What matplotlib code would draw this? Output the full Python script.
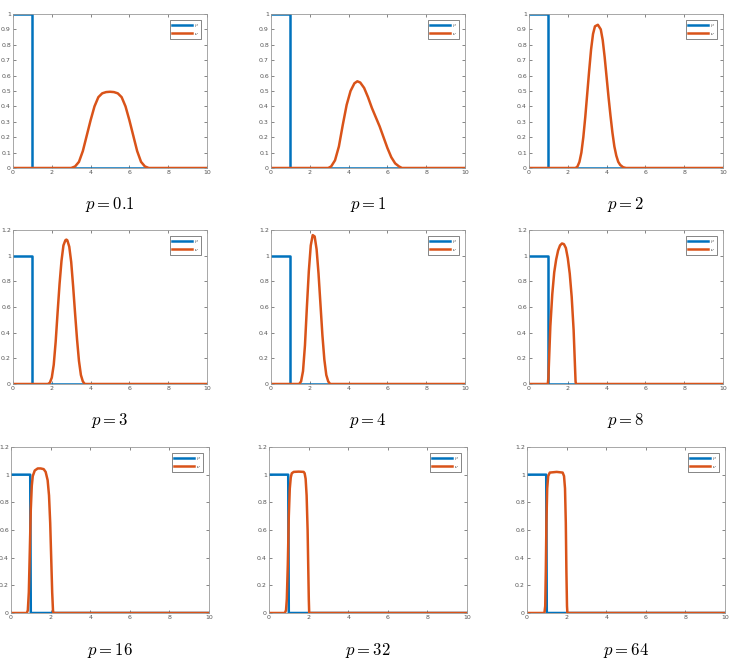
import matplotlib
matplotlib.use("Agg")
import matplotlib.pyplot as plt

plt.rcParams['mathtext.fontset'] = 'cm'

W, H = 733, 662

# p values shown under each panel
p_labels = ["0.1", "1", "2", "3", "4", "8", "16", "32", "64"]

# blue curve (mu): step down near x = 1
mu_x = [0, 1.0, 1.0, 10]
mu_x_steep = [0, 0.97, 1.0, 10]
mu_y = [1, 1, 0, 0]

# orange curves (nu)
nu_x01 = [0, 3.0, 3.2, 3.4, 3.6, 3.8, 4.0, 4.2, 4.4, 4.6, 4.8, 5.0, 5.2, 5.4, 5.6, 5.8, 6.0, 6.2, 6.4, 6.6, 6.8, 7.0, 10]
nu_y01 = [0, 0, 0.01, 0.04, 0.11, 0.21, 0.31, 0.40, 0.46, 0.485, 0.493, 0.495, 0.493, 0.485, 0.46, 0.40, 0.31, 0.21, 0.11, 0.04, 0.01, 0, 0]

nu_x1 = [0, 2.95, 3.1, 3.3, 3.5, 3.7, 3.9, 4.1, 4.3, 4.45, 4.6, 4.8, 5.0, 5.2, 5.4, 5.6, 5.8, 6.0, 6.2, 6.4, 6.6, 6.75, 10]
nu_y1 = [0, 0, 0.01, 0.05, 0.14, 0.28, 0.41, 0.50, 0.55, 0.563, 0.555, 0.52, 0.46, 0.39, 0.33, 0.27, 0.20, 0.13, 0.07, 0.03, 0.01, 0, 0]

nu_x2 = [0, 2.4, 2.5, 2.6, 2.7, 2.8, 2.9, 3.0, 3.1, 3.2, 3.3, 3.4, 3.55, 3.7, 3.8, 3.9, 4.0, 4.1, 4.2, 4.3, 4.4, 4.5, 4.6, 4.7, 4.85, 5.0, 10]
nu_y2 = [0, 0, 0.01, 0.04, 0.10, 0.20, 0.33, 0.48, 0.63, 0.77, 0.87, 0.92, 0.93, 0.90, 0.83, 0.72, 0.59, 0.46, 0.34, 0.23, 0.14, 0.08, 0.04, 0.02, 0.005, 0, 0]

nu_x3 = [0, 1.8, 1.9, 2.0, 2.1, 2.2, 2.3, 2.4, 2.5, 2.6, 2.7, 2.75, 2.8, 2.9, 3.0, 3.1, 3.2, 3.3, 3.4, 3.5, 3.6, 3.7, 10]
nu_y3 = [0, 0, 0.01, 0.05, 0.15, 0.33, 0.56, 0.78, 0.96, 1.08, 1.12, 1.125, 1.12, 1.07, 0.95, 0.76, 0.55, 0.35, 0.18, 0.07, 0.02, 0, 0]

nu_x4 = [0, 1.45, 1.55, 1.65, 1.75, 1.85, 1.95, 2.05, 2.15, 2.25, 2.35, 2.45, 2.55, 2.65, 2.75, 2.85, 2.95, 3.05, 10]
nu_y4 = [0, 0, 0.02, 0.10, 0.30, 0.60, 0.88, 1.08, 1.16, 1.15, 1.05, 0.86, 0.62, 0.38, 0.19, 0.07, 0.02, 0, 0]

nu_x8 = [0, 0.97, 1.0, 1.05, 1.1, 1.2, 1.3, 1.4, 1.5, 1.6, 1.7, 1.8, 1.9, 2.0, 2.1, 2.2, 2.3, 2.35, 2.4, 2.42, 10]
nu_y8 = [0, 0, 0.05, 0.25, 0.45, 0.70, 0.87, 0.97, 1.04, 1.08, 1.095, 1.09, 1.06, 0.98, 0.86, 0.68, 0.42, 0.22, 0.02, 0, 0]

nu_x16 = [0, 0.8, 0.85, 0.9, 0.95, 1.0, 1.05, 1.1, 1.2, 1.35, 1.5, 1.65, 1.75, 1.85, 1.92, 1.98, 2.03, 2.08, 2.12, 2.14, 10]
nu_y16 = [0, 0, 0.02, 0.15, 0.45, 0.75, 0.92, 0.99, 1.03, 1.045, 1.045, 1.04, 1.02, 0.96, 0.85, 0.65, 0.40, 0.15, 0.02, 0, 0]

nu_x32 = [0, 0.8, 0.86, 0.9, 0.95, 1.0, 1.05, 1.1, 1.15, 1.25, 1.5, 1.75, 1.8, 1.85, 1.9, 1.95, 1.98, 2.01, 2.03, 10]
nu_y32 = [0, 0, 0.02, 0.10, 0.35, 0.70, 0.90, 0.98, 1.01, 1.02, 1.022, 1.02, 1.01, 0.97, 0.85, 0.60, 0.35, 0.10, 0, 0]

nu_x64 = [0, 0.88, 0.92, 0.95, 0.98, 1.02, 1.07, 1.15, 1.5, 1.8, 1.87, 1.92, 1.96, 1.99, 2.02, 2.04, 10]
nu_y64 = [0, 0, 0.05, 0.30, 0.65, 0.90, 0.99, 1.015, 1.02, 1.015, 0.99, 0.90, 0.65, 0.30, 0.05, 0, 0]

nu_xs = [nu_x01, nu_x1, nu_x2, nu_x3, nu_x4, nu_x8, nu_x16, nu_x32, nu_x64]
nu_ys = [nu_y01, nu_y1, nu_y2, nu_y3, nu_y4, nu_y8, nu_y16, nu_y32, nu_y64]

x_ticks = [0, 2, 4, 6, 8, 10]
y_ticks_top = [0, 0.1, 0.2, 0.3, 0.4, 0.5, 0.6, 0.7, 0.8, 0.9, 1]
y_labels_top = ['0', '0.1', '0.2', '0.3', '0.4', '0.5', '0.6', '0.7', '0.8', '0.9', '1']
y_ticks_low = [0, 0.2, 0.4, 0.6, 0.8, 1, 1.2]
y_labels_low = ['0', '0.2', '0.4', '0.6', '0.8', '1', '1.2']

# axes boxes in pixels: left, top, right, bottom
rows = [(14, 168), (230, 384), (447, 613)]
cols = [[(13, 207), (271, 465), (529, 723)],
        [(13, 207), (271, 465), (529, 723)],
        [(11, 209), (269, 467), (527, 725)]]
title_y = [205, 421, 650]

blue = '#0072BD'
orange = '#D95319'

fig = plt.figure(figsize=(W / 100, H / 100), dpi=100)

for i in range(9):
    r, c = divmod(i, 3)
    top, bot = rows[r]
    left, right = cols[r][c]
    ax = fig.add_axes([left / W, 1 - bot / H, (right - left) / W, (bot - top) / H])
    mx = mu_x if r < 2 else mu_x_steep
    ax.plot(mx, mu_y, color=blue, lw=1.8, label=r'$\mu$')
    ax.plot(nu_xs[i], nu_ys[i], color=orange, lw=1.8, label=r'$\nu$',
            solid_joinstyle='round')
    ax.set_xlim(0, 10)
    ax.set_xticks(x_ticks)
    ax.set_xticklabels([str(t) for t in x_ticks])
    if r == 0:
        ax.set_ylim(0, 1)
        ax.set_yticks(y_ticks_top)
        ax.set_yticklabels(y_labels_top)
    else:
        ax.set_ylim(0, 1.2)
        ax.set_yticks(y_ticks_low)
        ax.set_yticklabels(y_labels_low)
    ax.tick_params(direction='in', length=2, width=0.5, labelsize=4.5,
                   colors='#555555', top=True, right=True, pad=1.5)
    for s in ax.spines.values():
        s.set_color('#999999')
        s.set_linewidth(0.6)
    leg = ax.legend(loc='upper right', fontsize=3.5, handlelength=4.2,
                    borderpad=0.4, labelspacing=0.3, handletextpad=0.3,
                    borderaxespad=1.3,
                    fancybox=False, framealpha=1, edgecolor='#555555')
    leg.get_frame().set_linewidth(0.5)
    fig.text((left + right) / 2 / W, 1 - title_y[r] / H, r'$p = %s$' % p_labels[i],
             ha='center', va='center', fontsize=12)

plt.savefig('out.png', dpi=100)
